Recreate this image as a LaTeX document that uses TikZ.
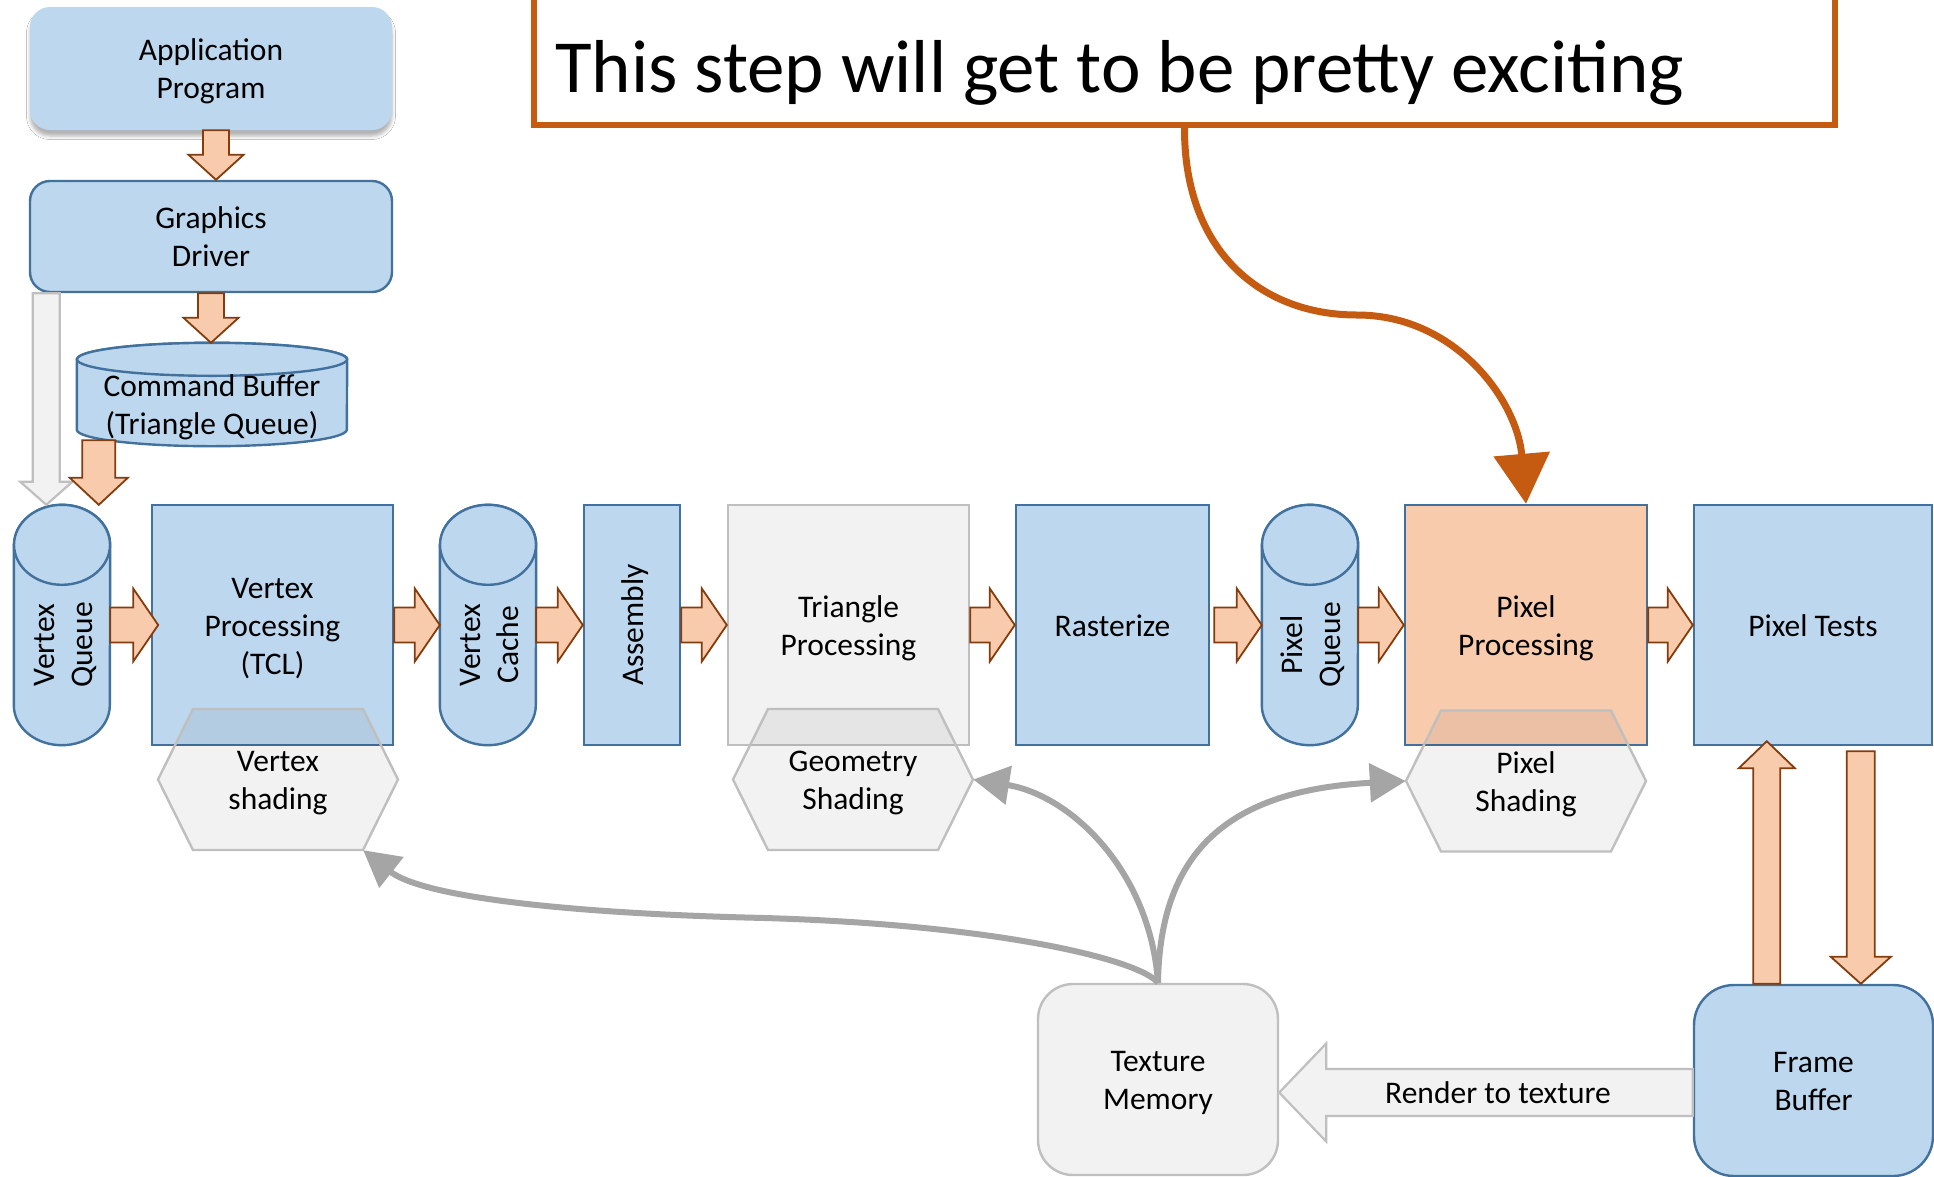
\documentclass[tikz,border=0pt]{standalone}
\usepackage{fontspec}
\setmainfont{Carlito}
\usetikzlibrary{calc,arrows.meta,shadows.blur}

\definecolor{boxblue}{HTML}{BDD7EE}
\definecolor{lineblue}{HTML}{41719C}
\definecolor{boxorange}{HTML}{F8CBAD}
\definecolor{lineorange}{HTML}{843C0C}
\definecolor{noteorange}{HTML}{C55A11}
\definecolor{boxgray}{HTML}{F2F2F2}
\definecolor{linegray}{HTML}{BFBFBF}
\definecolor{flowgray}{HTML}{A5A5A5}

% fixed ascent for the first line of every label
\newcommand\boxstrut{\rule{0pt}{30pt}}

\tikzset{
  every node/.style={font=\fontsize{31.5}{38}\selectfont, align=center, inner sep=0pt,
    execute at end node={\rule[-8pt]{0pt}{8pt}}},
  bluebox/.style={draw=lineblue, fill=boxblue, line width=2.4pt},
  graybox/.style={draw=linegray, fill=boxgray, line width=2.4pt},
  stage/.style={rectangle, minimum height=240pt},
  holder/.style={rectangle, minimum width=96pt, minimum height=240pt},
  hexshape/.style={draw=linegray, fill=black, fill opacity=0.05, line width=2.4pt, line join=miter},
  barrow/.style={draw=lineorange, fill=boxorange, line width=1.8pt, line join=miter},
  garrow/.style={draw=linegray, fill=boxgray, line width=2.2pt, line join=miter},
  flow/.style={draw=flowgray, line width=6pt, -{Triangle[length=36pt,width=38pt]}},
  noteline/.style={draw=noteorange, line width=7pt, -{Triangle[length=50pt,width=55pt]}},
}

% block arrow: [style] start, tip, half shaft width, half head width, head length
\newcommand\blockarrow[6][barrow]{%
  \coordinate (ba-s) at (#2);
  \coordinate (ba-t) at (#3);
  \coordinate (ba-h) at ($(ba-t)!#6!(ba-s)$);
  \draw[#1] ($(ba-s)!#4!90:(ba-t)$) -- ($(ba-h)!#4!90:(ba-t)$) -- ($(ba-h)!#5!90:(ba-t)$)
    -- (ba-t) -- ($(ba-h)!#5!-90:(ba-t)$) -- ($(ba-h)!#4!-90:(ba-t)$) -- ($(ba-s)!#4!-90:(ba-t)$) -- cycle;}

% upright cylinder filling the extent of node #1
\newcommand\uprightcyl[1]{%
  \draw[bluebox] ($(#1.north west)+(0,40)$) -- ($(#1.south west)+(0,-40)$)
    arc[start angle=180,end angle=360,x radius=48pt,y radius=40pt]
    -- ($(#1.north east)+(0,40)$)
    arc[start angle=0,end angle=180,x radius=48pt,y radius=40pt] -- cycle;
  \draw[bluebox] ($(#1.north)+(0,40)$) ellipse[x radius=48pt,y radius=40pt];}

% shading hexagon: name, centre x, centre y, text
\newcommand\hexstage[4]{%
  \filldraw[hexshape] (#2-120,#3) -- (#2-85,#3-70.5) -- (#2+85,#3-70.5) -- (#2+120,#3)
    -- (#2+85,#3+70.5) -- (#2-85,#3+70.5) -- cycle;
  \node[minimum width=240pt, minimum height=141pt] (#1) at (#2,#3) {\boxstrut #4};}

\begin{document}
\begin{tikzpicture}[x=1pt,y=-1pt]
\fill[white] (0,0) rectangle (1934,1176);
\useasboundingbox (0,0) rectangle (1934,1176);

% call-out
\node[draw=noteorange, line width=6pt, minimum width=1301pt, minimum height=145pt] (note) at (1184.5,52.5) {};
\node[anchor=base west, font=\fontsize{75}{90}\selectfont] (notetext) at (555,92) {This step will get to be pretty exciting};

% front end
\node[fill=boxblue, rounded corners=20pt, minimum width=362pt, minimum height=123pt,
      blur shadow={shadow xshift=0pt, shadow yshift=-6pt, shadow blur radius=3.5pt, shadow opacity=30}]
      (app) at (211,68.5) {\boxstrut Application\\Program};
\node[bluebox, rounded corners=20pt, minimum width=362pt, minimum height=111pt] (drv) at (211,236.5) {\boxstrut Graphics\\Driver};

\node[rectangle, minimum width=270pt, minimum height=103pt] (cb) at (212,394.5) {};
\draw[bluebox] ($(cb.north west)+(0,16.5)$) -- ($(cb.south west)+(0,-16.5)$)
  arc[start angle=180,end angle=360,x radius=135pt,y radius=16.5pt]
  -- ($(cb.north east)+(0,16.5)$)
  arc[start angle=0,end angle=180,x radius=135pt,y radius=16.5pt] -- cycle;
\draw[bluebox] ($(cb.north)+(0,16.5)$) ellipse[x radius=135pt,y radius=16.5pt];
\node (cbt) at (212,404) {\boxstrut Command Buffer\\(Triangle Queue)};

% main row
\node[holder] (vq) at (62,625) {};
\uprightcyl{vq}
\node[rotate=90] (vqt) at (62,645) {\boxstrut Vertex\\Queue};

\node[stage, bluebox, minimum width=241pt] (vp) at (272.5,625) {\boxstrut Vertex\\Processing\\(TCL)};

\node[holder] (vc) at (488,625) {};
\uprightcyl{vc}
\node[rotate=90] (vct) at (488,645) {\boxstrut Vertex\\Cache};

\node[stage, bluebox, minimum width=96pt] (asm) at (632,625) {};
\node[rotate=90] (asmt) at (632,625) {\boxstrut Assembly};

\node[stage, graybox, minimum width=241pt] (tp) at (848.5,625) {\boxstrut Triangle\\Processing};
\node[stage, bluebox, minimum width=193pt] (rast) at (1112.5,625) {\boxstrut Rasterize};

\node[holder] (pq) at (1310,625) {};
\uprightcyl{pq}
\node[rotate=90] (pqt) at (1310,645) {\boxstrut Pixel\\Queue};

\node[stage, draw=lineblue, fill=boxorange, line width=2.4pt, minimum width=242pt] (pp) at (1526,625) {\boxstrut Pixel\\Processing};
\node[stage, bluebox, minimum width=238pt] (pt) at (1813,625) {\boxstrut Pixel Tests};

% arrows into the front end and the queue
\coordinate (gd) at ($(drv.south west)+(17.5,0)$);
\blockarrow[garrow]{gd}{gd |- vq.north}{13.5pt}{26pt}{23pt}
\coordinate (ad) at ($(app.south)+(5,0)$);
\blockarrow{ad}{ad |- drv.north}{13pt}{27.5pt}{25pt}
\blockarrow{drv.south}{drv.south |- cb.north}{13pt}{27.5pt}{25pt}
\coordinate (cq) at ($(cb.south west)+(22,-6)$);
\blockarrow{cq}{cq |- vq.north}{16.5pt}{29pt}{27pt}

% pipeline arrows
\blockarrow{vq.east}{$(vq.east)+(48,0)$}{17.5pt}{36.5pt}{25pt}
\blockarrow{vp.east}{vc.west}{17.5pt}{36.5pt}{25pt}
\blockarrow{vc.east}{asm.west}{17.5pt}{36.5pt}{25pt}
\blockarrow{asm.east}{tp.west}{17.5pt}{36.5pt}{25pt}
\blockarrow{tp.east}{rast.west}{17.5pt}{36.5pt}{25pt}
\blockarrow{$(rast.east)+(4,0)$}{pq.west}{17.5pt}{36.5pt}{25pt}
\blockarrow{pq.east}{pp.west}{17.5pt}{36.5pt}{25pt}
\blockarrow{pp.east}{pt.west}{17.5pt}{36.5pt}{25pt}

% programmable shading stages
\hexstage{vs}{278}{779.5}{Vertex\\shading}
\hexstage{gs}{853}{779.5}{Geometry\\Shading}
\hexstage{ps}{1526}{781}{Pixel\\Shading}

% memory
\node[graybox, rounded corners=35pt, minimum width=240pt, minimum height=191pt] (tm) at (1158,1079.5) {\boxstrut Texture\\Memory};
\node[bluebox, rounded corners=40pt, minimum width=239pt, minimum height=191pt] (fb) at (1813.5,1080.5) {\boxstrut Frame\\Buffer};

\coordinate (rs) at ($(fb.west)+(0,12)$);
\blockarrow[garrow]{rs}{rs -| tm.east}{23.5pt}{49pt}{47pt}
\node (rtt) at (1498,1092) {\boxstrut Render to texture};

\coordinate (fu) at ($(fb.north west)+(74,0)$);
\blockarrow{fu}{$(fu |- pt.south)+(0,-5)$}{13.5pt}{28pt}{27pt}
\coordinate (fd) at ($(pt.south west)+(168,5)$);
\blockarrow{fd}{fd |- fb.north}{14pt}{30pt}{27pt}

% texture reads
\draw[flow] (tm.north) .. controls (1140,960) and (1000,925) .. (765,918)
  .. controls (550,913) and (420,895) .. ([xshift=-35pt]vs.south east);
\draw[flow] (tm.north) .. controls (1150,870) and (1070,795) .. (gs.east);
\draw[flow] (tm.north) .. controls (1160,850) and (1230,790) .. (ps.west);

% call-out pointer
\draw[noteline] (note.south) .. controls (1184,250) and (1260,315) .. (1357,315)
  .. controls (1455,315) and (1517,400) .. (pp.north);
\end{tikzpicture}
\end{document}
